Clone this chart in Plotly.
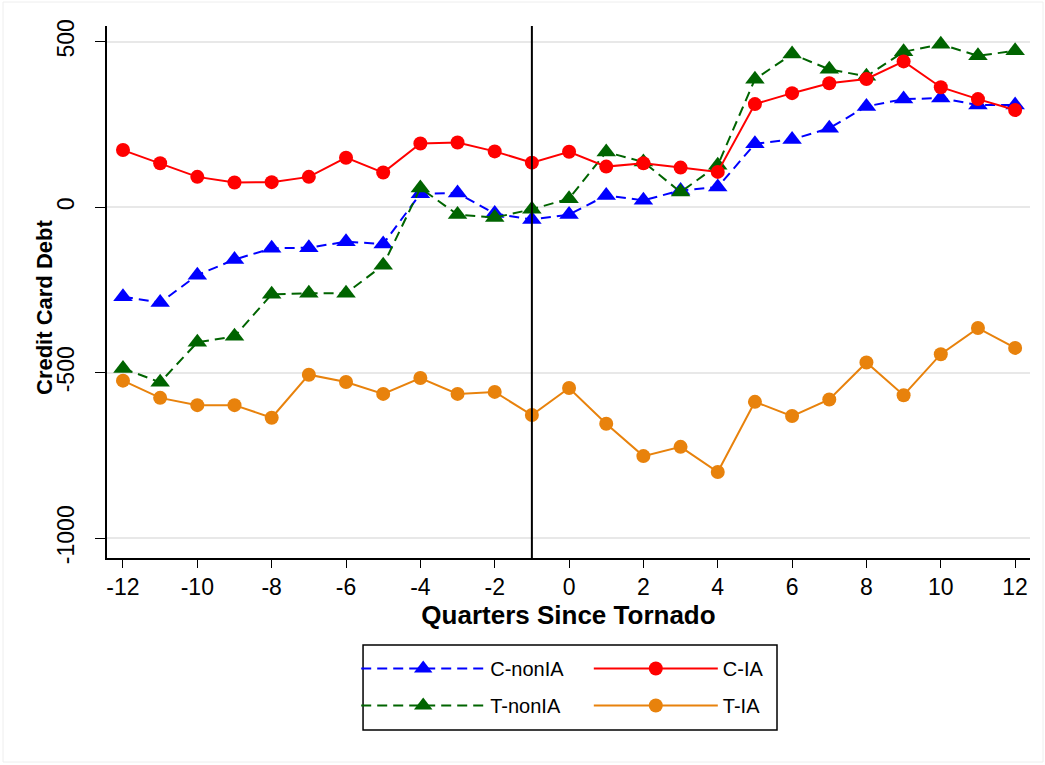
import plotly.graph_objects as go

quarters = list(range(-12, 13))

c_nonia = [-270, -288, -205, -158, -124, -122, -104, -111, 41, 43, -19, -37,
           -22, 36, 21, 51, 61, 192, 205, 239, 305, 327, 330, 309, 309]
c_ia = [173, 133, 92, 75, 76, 92, 150, 105, 193, 196, 169, 135,
        168, 123, 133, 120, 107, 312, 345, 375, 388, 441, 363, 327, 294]
t_nonia = [-487, -529, -408, -390, -263, -260, -260, -175, 58, -22, -31, -6,
           26, 167, 137, 46, 127, 387, 463, 417, 396, 470, 493, 458, 473]
t_ia = [-524, -576, -598, -598, -636, -506, -528, -564, -516, -564, -558, -628,
        -546, -654, -752, -724, -800, -588, -631, -581, -469, -568, -444, -365, -425]

x_ticks = list(range(-12, 13, 2))
x_ticktext = [str(v) for v in x_ticks]
y_ticks = [500, 0, -500, -1000]
y_ticktext = [str(v) for v in y_ticks]
event_quarter = -1

FONT = "Liberation Sans, Arial, sans-serif"
DASH = "10px,6px"

fig = go.Figure()

fig.add_trace(go.Scatter(
    x=quarters, y=c_nonia, name="C-nonIA", mode="lines+markers",
    line=dict(color="#0000FF", width=2, dash=DASH),
    marker=dict(symbol="triangle-up", size=17, color="#0000FF"),
    legend="legend", legendgroup="a"))
fig.add_trace(go.Scatter(
    x=quarters, y=t_nonia, name="T-nonIA", mode="lines+markers",
    line=dict(color="#006400", width=2, dash=DASH),
    marker=dict(symbol="triangle-up", size=17, color="#006400"),
    legend="legend", legendgroup="b"))
fig.add_trace(go.Scatter(
    x=quarters, y=c_ia, name="C-IA", mode="lines+markers",
    line=dict(color="#FF0000", width=2),
    marker=dict(symbol="circle", size=14, color="#FF0000"),
    legend="legend2", legendgroup="c"))
fig.add_trace(go.Scatter(
    x=quarters, y=t_ia, name="T-IA", mode="lines+markers",
    line=dict(color="#E8820C", width=2),
    marker=dict(symbol="circle", size=14, color="#E8820C"),
    legend="legend2", legendgroup="d"))

fig.add_vline(x=event_quarter, line=dict(color="black", width=2))

# legend frame
fig.add_shape(type="rect", xref="paper", yref="paper",
              x0=0.2774, x1=0.7259, y0=-0.3233, y1=-0.1635,
              line=dict(color="black", width=1.5), fillcolor="rgba(0,0,0,0)")

leg_common = dict(orientation="v", bgcolor="rgba(0,0,0,0)", borderwidth=0,
                  font=dict(family=FONT, size=20, color="black"),
                  tracegroupgap=8, itemwidth=124,
                  xanchor="left", yanchor="top")

fig.update_layout(
    width=1045, height=765,
    paper_bgcolor="white", plot_bgcolor="white",
    margin=dict(l=107, r=15, t=26, b=207),
    font=dict(family=FONT, size=18, color="black"),
    showlegend=True,
    legend=dict(x=0.270, y=-0.171, **leg_common),
    legend2=dict(x=0.522, y=-0.171, **leg_common),
    xaxis=dict(
        range=[-12.43, 12.4], tickmode="array", tickvals=x_ticks,
        ticktext=x_ticktext,
        ticks="outside", ticklen=8, tickcolor="black",
        showline=True, linecolor="black", linewidth=1.5,
        showgrid=False, zeroline=False,
        tickfont=dict(family=FONT, size=23),
        title=dict(text="<b>Quarters Since Tornado</b>",
                   font=dict(family=FONT, size=26), standoff=6),
    ),
    yaxis=dict(
        range=[-1060, 548], tickmode="array", tickvals=y_ticks,
        ticktext=y_ticktext, tickangle=-90,
        ticks="outside", ticklen=10, tickcolor="black",
        showline=True, linecolor="black", linewidth=1.5,
        showgrid=True, gridcolor="#E8E8E8", gridwidth=2, zeroline=False,
        tickfont=dict(family=FONT, size=23), ticklabelstandoff=12,
    ),
)

# y-axis title placed as annotation to match the reference position
fig.add_annotation(text="<b>Credit Card Debt</b>", xref="paper", yref="paper",
                   x=(44 - 107) / 923, y=(558 - 308) / 532,
                   xanchor="center", yanchor="middle", textangle=-90,
                   showarrow=False, font=dict(family=FONT, size=22, color="black"))

# faint outer graph frame
fig.add_shape(type="rect", xref="paper", yref="paper",
              x0=(3 - 107) / 923, x1=(1043 - 107) / 923,
              y0=(558 - 762) / 532, y1=(558 - 2) / 532,
              line=dict(color="#EEEEEE", width=1), layer="below")

fig.write_html("out.html", config={"displayModeBar": False},
               post_script="document.body.style.margin='0px';document.body.style.overflow='hidden';")
